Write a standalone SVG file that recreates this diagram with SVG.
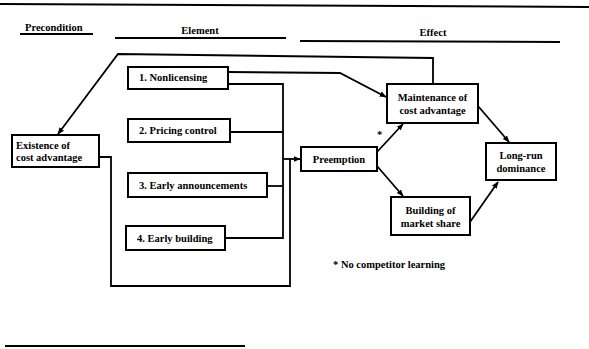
<svg xmlns="http://www.w3.org/2000/svg" width="589" height="349" viewBox="0 0 589 349">
<style>
  .box{fill:#fff;stroke:#000;stroke-width:2}
  .t{font-family:"Liberation Serif","Times New Roman",serif;font-weight:bold;font-size:10.5px;fill:#000}
  .h{font-family:"Liberation Serif","Times New Roman",serif;font-weight:bold;font-size:10.5px;fill:#000}
  .c{fill:none;stroke:#000;stroke-width:1.8}
  .rule{stroke:#000;stroke-width:2}
</style>
<defs>
  <marker id="arr" viewBox="0 0 10 10" refX="9" refY="5" markerWidth="7" markerHeight="7" markerUnits="userSpaceOnUse" orient="auto">
    <path d="M0,1 L10,5 L0,9 z" fill="#000"/>
  </marker>
</defs>
<rect width="589" height="349" fill="#fff"/>
<line class="rule" x1="0" y1="4" x2="589" y2="7" stroke-width="2.5"/>
<line class="rule" x1="5" y1="346" x2="245" y2="346" stroke-width="2.5"/>
<g id="headers">
  <text class="h" x="25" y="31">Precondition</text>
  <line class="rule" x1="20" y1="34" x2="93" y2="34"/>
  <text class="h" x="200" y="34" text-anchor="middle">Element</text>
  <line class="rule" x1="115" y1="38" x2="286" y2="38"/>
  <text class="h" x="433" y="36" text-anchor="middle">Effect</text>
  <line class="rule" x1="300" y1="41" x2="560" y2="42"/>
</g>
<g id="connectors">
  <polyline class="c" points="433,83 433,58 118,54 58,134" marker-end="url(#arr)"/>
  <polyline class="c" points="228,72 340,73 386,97" marker-end="url(#arr)"/>
  <polyline class="c" points="228,84 283,84 283,238 225,238"/>
  <line class="c" x1="230" y1="132" x2="283" y2="132"/>
  <line class="c" x1="267" y1="186" x2="283" y2="186"/>
  <polyline class="c" points="99,157 111,157 111,286 290,286 290,159"/>
  <line class="c" x1="283" y1="159" x2="300" y2="159" marker-end="url(#arr)"/>
  <line class="c" x1="377" y1="152" x2="403" y2="124" marker-end="url(#arr)"/>
  <line class="c" x1="377" y1="166" x2="403" y2="196" marker-end="url(#arr)"/>
  <line class="c" x1="478" y1="106" x2="509" y2="142" marker-end="url(#arr)"/>
  <line class="c" x1="470" y1="222" x2="498" y2="182" marker-end="url(#arr)"/>
</g>
<g id="existence">
  <rect class="box" x="12" y="135" width="87" height="32"/>
  <text class="t" x="16" y="149">Existence of</text>
  <text class="t" x="16" y="161">cost advantage</text>
</g>
<g id="nonlicensing">
  <rect class="box" x="128" y="67" width="100" height="22"/>
  <text class="t" x="139" y="81">1. Nonlicensing</text>
</g>
<g id="pricing">
  <rect class="box" x="128" y="119" width="102" height="23"/>
  <text class="t" x="139" y="134">2. Pricing control</text>
</g>
<g id="announcements">
  <rect class="box" x="128" y="173" width="139" height="24"/>
  <text class="t" x="139" y="189">3. Early announcements</text>
</g>
<g id="building">
  <rect class="box" x="126" y="226" width="99" height="24"/>
  <text class="t" x="137" y="242">4. Early building</text>
</g>
<g id="preemption">
  <rect class="box" x="301" y="147" width="76" height="24"/>
  <text class="t" x="339" y="163" text-anchor="middle">Preemption</text>
</g>
<g id="maintenance">
  <rect class="box" x="387" y="84" width="91" height="39"/>
  <text class="t" x="432.5" y="101" text-anchor="middle">Maintenance of</text>
  <text class="t" x="432.5" y="114" text-anchor="middle">cost advantage</text>
</g>
<g id="marketshare">
  <rect class="box" x="391" y="197" width="79" height="38"/>
  <text class="t" x="430.5" y="214" text-anchor="middle">Building of</text>
  <text class="t" x="430.5" y="227" text-anchor="middle">market share</text>
</g>
<g id="longrun">
  <rect class="box" x="486" y="143" width="70" height="37"/>
  <text class="t" x="521" y="159" text-anchor="middle">Long-run</text>
  <text class="t" x="521" y="172" text-anchor="middle">dominance</text>
</g>
<g id="notes">
  <text class="t" x="377" y="138" font-size="12">*</text>
  <text class="t" x="333" y="268">* No competitor learning</text>
</g>
</svg>
